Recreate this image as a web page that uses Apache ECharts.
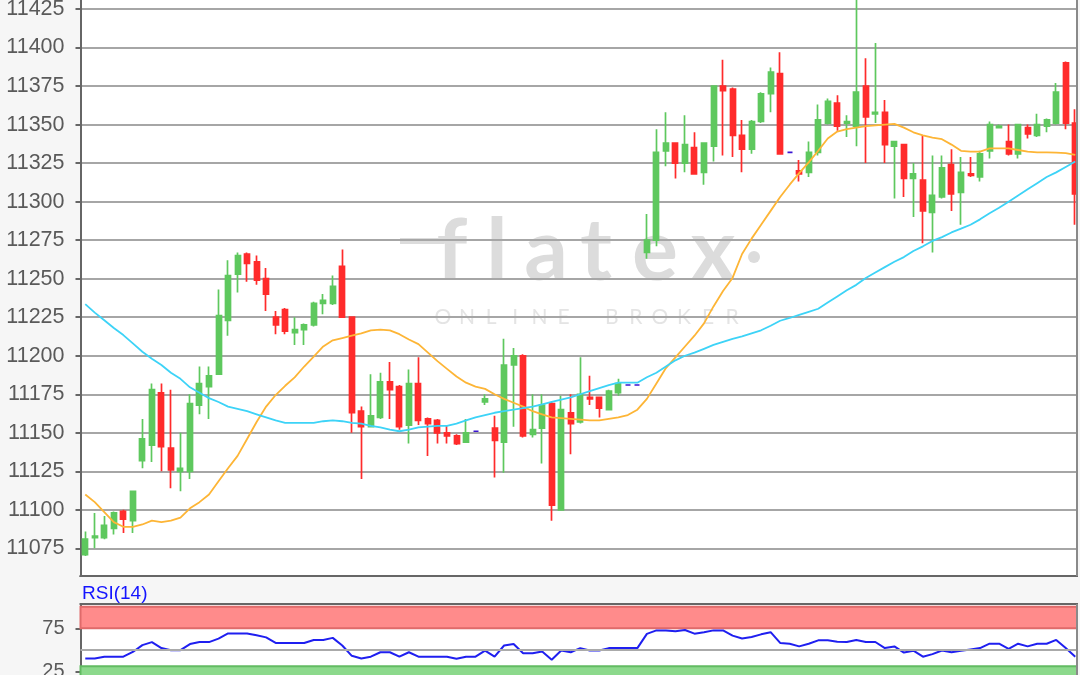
<!DOCTYPE html>
<html><head><meta charset="utf-8">
<script src="https://cdn.jsdelivr.net/npm/echarts@6/dist/echarts.min.js"></script>
<style>html,body{margin:0;padding:0;background:#f6f6f6}#c{width:1080px;height:675px}</style>
</head><body><div id="c"></div>
<script>
const categories = [1,2,3,4,5,6,7,8,9,10,11,12,13,14,15,16,17,18,19,20,21,22,23,24,25,26,27,28,29,30,31,32,33,34,35,36,37,38,39,40,41,42,43,44,45,46,47,48,49,50,51,52,53,54,55,56,57,58,59,60,61,62,63,64,65,66,67,68,69,70,71,72,73,74,75,76,77,78,79,80,81,82,83,84,85,86,87,88,89,90,91,92,93,94,95,96,97,98,99,100,101,102,103,104,105].map(String);

const opens = [11071,11082,11082,11088,11099,11093,11132,11142,11176,11140,
11125,11125,11168,11180,11188,11223,11253,11266,11261,11250,
11225,11230,11215,11217,11220,11234,11234,11258,11225,11164,
11154,11160,11183,11180,11155,11182,11159,11158,11150,11148,
11144,11151,11170,11153,11144,11194,11200,11149,11153,11169,
11100,11163,11157,11173,11173,11165,11176,11181,11181,11267,
11275,11333,11338,11325,11335,11319,11336,11375,11373,11343,
11334,11352,11370,11383,11332,11320,11319,11332,11351,11364,
11351,11349,11375,11357,11358,11336,11337,11315,11314,11293,
11303,11324,11306,11318,11316,11333,11348,11339,11331,11348,
11343,11349,11351,11390,11351];
const closes = [11081,11083,11090,11098,11094,11112,11146,11178,11141,11126,
11127,11169,11182,11187,11226,11252,11265,11260,11249,11240,
11220,11216,11217,11220,11234,11236,11245,11225,11163,11154,
11161,11183,11178,11154,11182,11158,11156,11150,11148,11143,
11150,11151,11172,11145,11194,11200,11148,11152,11168,11103,
11165,11156,11175,11172,11166,11177,11182,11181,11181,11275,
11332,11338,11325,11337,11318,11338,11375,11372,11343,11334,
11352,11370,11384,11331,11332,11318,11332,11353,11365,11349,
11352,11371,11355,11358,11337,11339,11315,11318,11294,11304,
11322,11305,11319,11317,11331,11350,11349,11331,11350,11344,
11350,11353,11371,11351,11305];
const lows = [11070,11075,11081,11084,11085,11085,11127,11131,11125,11114,
11112,11120,11162,11159,11188,11213,11241,11248,11246,11229,
11214,11214,11207,11207,11219,11227,11233,11225,11150,11120,
11154,11159,11159,11152,11143,11155,11135,11143,11143,11142,
11144,11151,11168,11121,11124,11154,11147,11147,11130,11093,
11100,11136,11156,11168,11160,11165,11174,11181,11181,11263,
11271,11323,11315,11319,11318,11311,11326,11330,11329,11319,
11331,11351,11358,11331,11332,11313,11316,11330,11350,11346,
11342,11336,11325,11351,11325,11302,11303,11290,11273,11267,
11302,11294,11285,11316,11313,11328,11348,11330,11328,11341,
11342,11345,11350,11347,11285];
const highs = [11086,11098,11096,11099,11100,11112,11159,11182,11182,11178,
11150,11175,11193,11193,11243,11262,11267,11267,11265,11257,
11229,11231,11225,11221,11235,11240,11252,11269,11225,11167,
11188,11189,11196,11181,11191,11199,11160,11159,11155,11149,
11159,11151,11175,11161,11211,11205,11201,11175,11175,11170,
11174,11175,11199,11187,11173,11178,11185,11181,11181,11292,
11347,11358,11338,11356,11345,11338,11375,11392,11374,11353,
11353,11371,11387,11397,11332,11327,11339,11363,11367,11369,
11356,11440,11393,11403,11366,11339,11337,11325,11343,11330,
11330,11334,11329,11329,11333,11352,11350,11350,11350,11350,
11357,11354,11377,11391,11360];
const maFast = [11110,11105,11098.5,11092,11089,11089,11090.5,11093,11092,11093,
11095,11101,11105,11110,11118.5,11127,11135,11146,11157,11167,
11174.5,11180.5,11186,11193,11199.5,11206,11210,11211.5,11213,11214.5,
11216.5,11217,11216.5,11214,11210.5,11207.5,11202,11196.5,11191.5,11186.5,
11182.5,11180,11178.5,11175,11172,11169.5,11167,11164,11162,11160,
11159.5,11159,11158.5,11158,11158,11159,11160,11161.5,11165,11172,
11182,11192,11199,11206,11213,11221,11232,11242,11250.5,11266,
11276,11285,11294,11303,11311,11318.5,11325.5,11333,11341,11345.5,
11347,11348,11349,11349.5,11350,11350.5,11348,11345,11343,11341.5,
11340.5,11337,11333,11332.5,11332.5,11334.5,11334.5,11334.5,11333.5,11332.5,
11332,11332,11331.8,11331.5,11330.3];
const maSlow = [11233.5,11228,11223,11218,11213.4,11208,11202.6,11198,11194,11189,
11185,11179.5,11176,11172.5,11170,11167,11165.5,11164,11162,11160,
11158,11156.5,11156.5,11156.5,11156.5,11157.5,11158,11157.5,11156.5,11156,
11154.5,11153.5,11152,11151,11152,11153.5,11154,11154.5,11154.5,11156,
11158,11160,11161.5,11163,11164,11165,11166,11167,11168.5,11170,
11171.5,11173,11175,11177,11179,11181,11182.5,11182.5,11182.5,11186,
11189,11193,11197,11200,11202,11204.5,11207,11209,11211,11212.5,
11214.5,11216.5,11219.5,11222.7,11224.5,11226.5,11228.5,11230.5,11234.5,11238.5,
11242.5,11246,11250.5,11254,11257.5,11261,11264,11268,11271,11274.5,
11277,11280,11282.5,11285,11288.5,11292.5,11296,11300,11304,11308,
11312,11316,11319,11322.5,11326];
const rsi14 = [40,40,42,42,42,47.5,55.5,59,52,49.6,
49.6,56.7,59,59,63,69,69,69,67,64.5,
58,58,58,58,61.5,61.5,63.9,55,43,40,
42,47.2,47.2,42,47.2,42,42,42,42,39.5,
42,42,49,42,55,56.7,46,46,48,38.5,
49.2,47.2,52,49.2,49.2,52,52,52,52,68.6,
72.6,72.6,71.5,73,68.8,70.5,72.6,72.6,66.5,63.2,
65,68,70.5,58,57.1,54,57,61,61.1,59.5,
59.1,61.5,59.1,59.1,52,53.9,46.8,49,42,45,
49.2,47.2,49,50.5,52,57.1,57.1,51.2,57.1,54,
57.1,57.1,61.5,52,42];
const priceTicks = [11075,11100,11125,11150,11175,11200,11225,11250,11275,11300,11325,11350,11375,11400,11425];
const rsiLabels = [25,75];
const rsiOverbought = [75,100];
const rsiOversold = [0,31];
const rsiMid = 50;

const UP = '#5ec85e', DOWN = '#ff2b2b', DOJI = '#3a14d2', BG = '#f6f6f6';
const candleData = opens.map((o, i) => {
  const v = [o, closes[i], lows[i], highs[i]];
  if (o === closes[i]) return {value: v, itemStyle: {color: DOJI, color0: DOJI, borderColor: DOJI, borderColor0: DOJI}};
  return v;
});

const chart = echarts.init(document.getElementById('c'), null, {renderer: 'canvas'});
const GL = 80.5;
const txtFont = 'Liberation Sans, Arial, sans-serif';

const wmLetters = [];
'ONLINE BROKER'.split('').forEach((ch, k) => {
  if (ch === ' ') return;
  wmLetters.push({type: 'text', z: -5, style: {text: ch, x: 443 + 24.1 * k, y: 317, textAlign: 'center', textVerticalAlign: 'middle', fill: '#e4e4e4', font: '21px Lato, sans-serif'}});
});
const bigLetters = [['f', 452], ['l', 497], ['a', 546], ['t', 596], ['e', 655], ['x', 713]].map(([ch, cx]) => ({
  type: 'text', z: -5, style: {text: ch, x: cx, y: 252, textAlign: 'center', textVerticalAlign: 'middle', fill: '#dcdcdc', font: 'bold 86px Lato, sans-serif'}
}));

chart.setOption({
  animation: false,
  backgroundColor: BG,
  grid: [
    {left: GL, right: 0, top: 0, height: 586.9, outerBoundsMode: 'none', containLabel: false},
    {left: GL, right: 0, top: 604, height: 88.8, outerBoundsMode: 'none', containLabel: false}
  ],
  xAxis: [
    {type: 'category', gridIndex: 0, data: categories, boundaryGap: true, axisLine: {show: false}, axisTick: {show: false}, axisLabel: {show: false}, splitLine: {show: false}},
    {type: 'category', gridIndex: 1, data: categories, boundaryGap: true, axisLine: {show: false}, axisTick: {show: false}, axisLabel: {show: false}, splitLine: {show: false}}
  ],
  yAxis: [
    {type: 'value', gridIndex: 0, min: 11050, max: 11430.84, interval: 25,
     axisLine: {show: true, lineStyle: {color: '#666', width: 2}},
     axisTick: {show: true, length: 5, lineStyle: {color: '#666', width: 2}},
     axisLabel: {color: '#5a5a5a', fontSize: 21.5, fontFamily: txtFont, margin: 16, showMaxLabel: false,
       formatter: v => priceTicks.includes(v) ? String(v) : ''},
     splitLine: {show: true, showMaxLine: false, lineStyle: {color: '#a6a6a6', width: 2}}},
    {type: 'value', gridIndex: 1, min: 0, max: 103.3, interval: 25,
     axisLine: {show: true, lineStyle: {color: '#666', width: 2}},
     axisTick: {show: true, length: 5, lineStyle: {color: '#666', width: 2}, customValues: rsiLabels},
     axisLabel: {color: '#5a5a5a', fontSize: 20, fontFamily: txtFont, margin: 16, customValues: rsiLabels,
       formatter: v => rsiLabels.includes(v) ? String(v) : ''},
     splitLine: {show: false}}
  ],
  series: [
    {type: 'candlestick', xAxisIndex: 0, yAxisIndex: 0, data: candleData, barWidth: 5.5,
     itemStyle: {color: UP, color0: DOWN, borderColor: UP, borderColor0: DOWN, borderColorDoji: DOJI, borderWidth: 1.7}},
    {type: 'line', xAxisIndex: 0, yAxisIndex: 0, data: maFast, symbol: 'none', silent: true,
     lineStyle: {color: '#fdb536', width: 1.8}, z: 3},
    {type: 'line', xAxisIndex: 0, yAxisIndex: 0, data: maSlow, symbol: 'none', silent: true,
     lineStyle: {color: '#3dd3f7', width: 1.8}, z: 3},
    {type: 'line', xAxisIndex: 1, yAxisIndex: 1, data: rsi14, symbol: 'none', silent: true,
     lineStyle: {color: '#1f1ff0', width: 2}, z: 4,
     markArea: {silent: true, data: [
       [{yAxis: rsiOverbought[0], itemStyle: {color: '#ff8b8b', borderColor: '#e06a6a', borderWidth: 2}}, {yAxis: rsiOverbought[1]}],
       [{yAxis: rsiOversold[0], itemStyle: {color: '#8cd98c', borderColor: '#62bb62', borderWidth: 2}}, {yAxis: rsiOversold[1]}]
     ]},
     markLine: {silent: true, symbol: 'none', label: {show: false}, lineStyle: {color: '#aaaaaa', width: 2, type: 'solid'},
       data: [{yAxis: rsiMid}]}}
  ],
  graphic: [
    {type: 'rect', z: -10, shape: {x: GL, y: 0, width: 1078 - GL, height: 576}, style: {fill: '#ffffff'}},
    {type: 'rect', z: -10, shape: {x: GL, y: 604, width: 1078 - GL, height: 71}, style: {fill: '#ffffff'}},
    {type: 'rect', z: -5, shape: {x: 400, y: 238, width: 44, height: 6}, style: {fill: '#dcdcdc'}},
    ...bigLetters,
    {type: 'circle', z: -5, shape: {cx: 754, cy: 257, r: 6}, style: {fill: '#dcdcdc'}},
    ...wmLetters,
    {type: 'rect', z: 100, shape: {x: 0, y: 577, width: 1080, height: 27}, style: {fill: BG}},
    {type: 'rect', z: 100, shape: {x: 1078, y: 0, width: 2, height: 675}, style: {fill: BG}},
    {type: 'line', z: 101, shape: {x1: 79.5, y1: 576, x2: 1078, y2: 576}, style: {stroke: '#666', lineWidth: 2}},
    {type: 'line', z: 101, shape: {x1: 1077, y1: 0, x2: 1077, y2: 576}, style: {stroke: '#8a8a8a', lineWidth: 2}},
    {type: 'line', z: 101, shape: {x1: 79.5, y1: 604, x2: 1078, y2: 604}, style: {stroke: '#666', lineWidth: 2}},
    {type: 'line', z: 101, shape: {x1: 1077, y1: 604, x2: 1077, y2: 675}, style: {stroke: '#8a8a8a', lineWidth: 2}},
    {type: 'line', z: 101, shape: {x1: 80.5, y1: 576, x2: 80.5, y2: 577}, style: {stroke: '#666', lineWidth: 2}},
    {type: 'text', z: 102, style: {text: 'RSI(14)', x: 82, y: 584, textVerticalAlign: 'top', fill: '#1414ff', font: '19px Liberation Sans, Arial, sans-serif'}}
  ]
});
</script></body></html>
